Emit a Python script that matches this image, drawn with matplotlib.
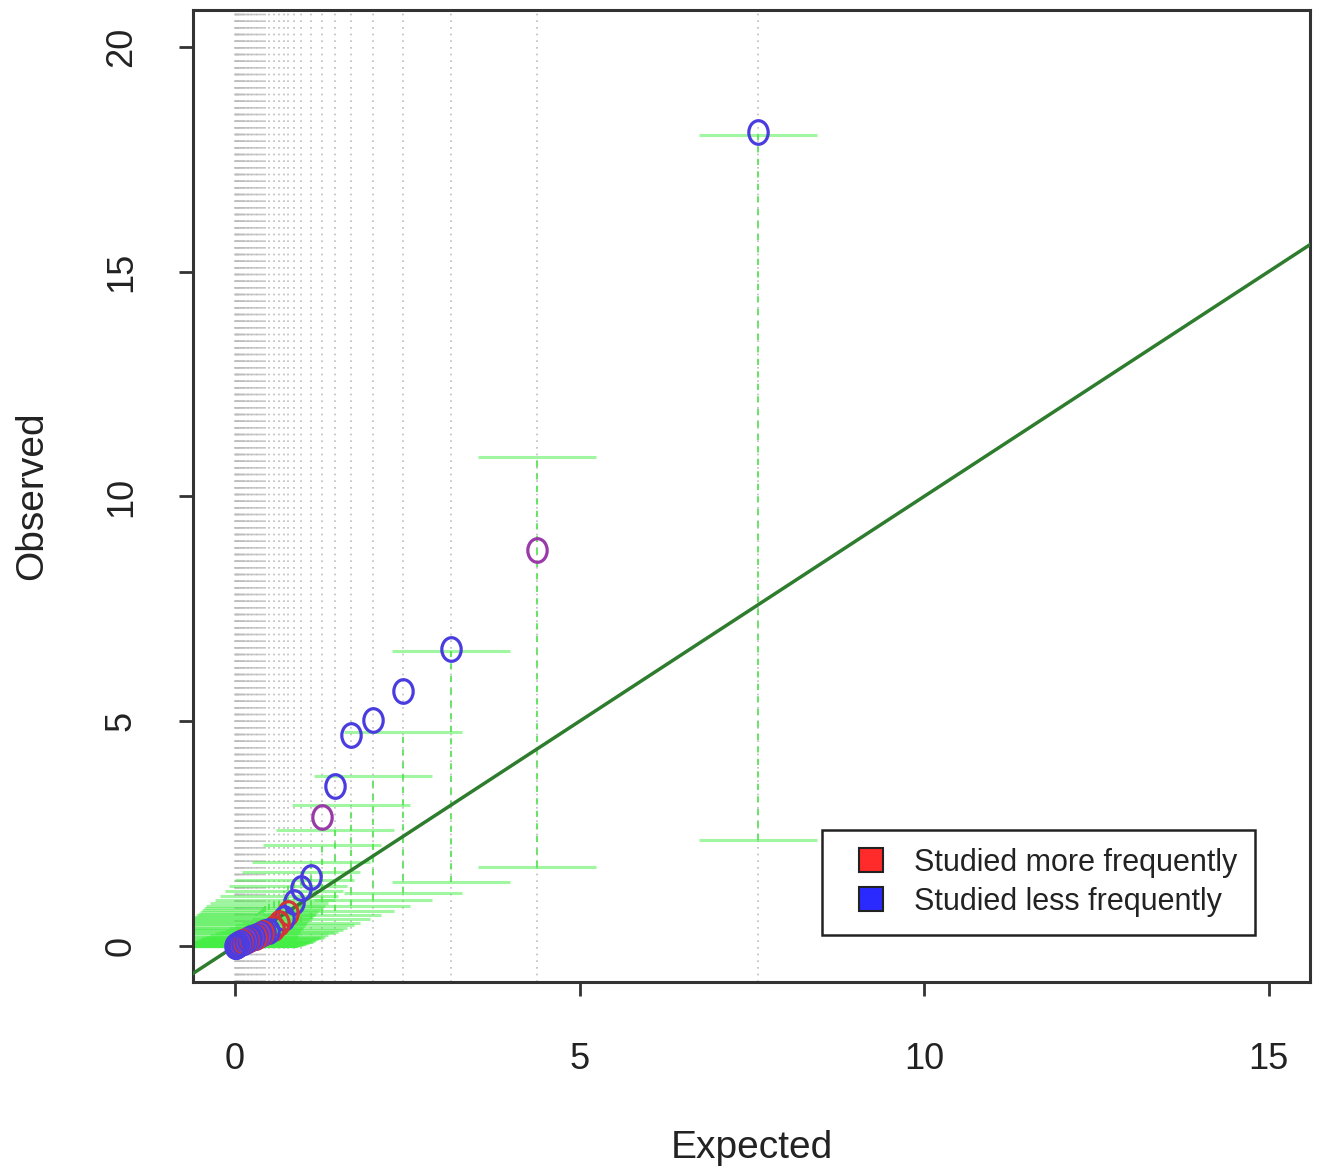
import matplotlib
matplotlib.use("Agg")
import matplotlib.pyplot as plt
from matplotlib.lines import Line2D
from matplotlib.markers import MarkerStyle
from matplotlib.path import Path
from matplotlib.transforms import Affine2D

plt.rcParams['font.family'] = ['Liberation Sans', 'DejaVu Sans']

# expected vs observed, with confidence limits per point
expected = [7.59, 4.38, 3.135, 2.44, 2.00, 1.68, 1.45, 1.26, 1.10, 0.96, 0.86,
            0.77, 0.71, 0.64, 0.57, 0.49, 0.44, 0.41, 0.38, 0.35, 0.32, 0.30,
            0.27, 0.25, 0.23, 0.21, 0.19, 0.17, 0.15, 0.13, 0.12, 0.10, 0.09,
            0.07, 0.06, 0.05, 0.04, 0.03, 0.02, 0.01, 0.005]
observed = [18.1, 8.8, 6.6, 5.67, 5.03, 4.69, 3.56, 2.87, 1.54, 1.29, 0.98,
            0.74, 0.62, 0.51, 0.40, 0.34, 0.31, 0.29, 0.27, 0.25, 0.23, 0.21,
            0.20, 0.18, 0.17, 0.15, 0.14, 0.13, 0.12, 0.10, 0.09, 0.08, 0.07,
            0.06, 0.05, 0.04, 0.03, 0.02, 0.01, 0.005, 0.0]
upper = [18.04, 10.88, 6.56, 4.76, 3.78, 3.14, 2.58, 2.25, 1.87, 1.65, 1.47,
         1.33, 1.22, 1.12, 1.03, 0.95, 0.88, 0.84, 0.80, 0.76, 0.72, 0.68,
         0.65, 0.62, 0.58, 0.55, 0.52, 0.48, 0.45, 0.41, 0.38, 0.35, 0.31,
         0.28, 0.24, 0.21, 0.18, 0.14, 0.11, 0.07, 0.04]
lower = [2.36, 1.76, 1.43, 1.18, 1.03, 0.90, 0.78, 0.68, 0.60, 0.52, 0.46,
         0.40, 0.36, 0.32, 0.28, 0.24, 0.21, 0.19, 0.17, 0.15, 0.13, 0.12,
         0.10, 0.09, 0.08, 0.07, 0.06, 0.05, 0.04, 0.035, 0.03, 0.025, 0.02,
         0.015, 0.012, 0.01, 0.008, 0.006, 0.004, 0.002, 0.001]
# b = less frequently, r = more frequently, p = mixed
groups = ['b', 'p', 'b', 'b', 'b', 'b', 'b', 'p', 'b', 'b', 'b',
          'r', 'b', 'r', 'r', 'b', 'b', 'r', 'b', 'p', 'b', 'r',
          'b', 'p', 'b', 'b', 'r', 'b', 'p', 'b', 'b', 'r', 'b',
          'b', 'p', 'b', 'b', 'b', 'p', 'b', 'b']

colors = {'b': '#4a3de0', 'r': '#d43434', 'p': '#9a3aa8'}
cap_w = 0.86

fig = plt.figure(figsize=(13.2, 11.72), dpi=100)
ax = fig.add_axes([0.1462, 0.1621, 0.8462, 0.8294])
ax.set_xlim(-0.61, 15.6)
ax.set_ylim(-0.8, 20.82)

for x in expected:
    ax.axvline(x, color='#bcbcbc', linestyle=(0, (1, 3)), lw=1.2, zorder=1)

for x, lo, hi in zip(expected, lower, upper):
    ax.plot([x, x], [lo, hi], color='#5ee05e', linestyle=(0, (3, 3)), lw=1.5,
            alpha=0.9, zorder=2)
    ax.plot([x - cap_w, x + cap_w], [hi, hi], color='#44ee44', lw=2.2,
            alpha=0.5, zorder=2, solid_capstyle='butt')
    ax.plot([x - cap_w, x + cap_w], [lo, lo], color='#44ee44', lw=2.2,
            alpha=0.5, zorder=2, solid_capstyle='butt')

ax.plot([-1, 16], [-1, 16], color='#2e7d2e', lw=2.5, zorder=3)

ell = Path.unit_circle().transformed(Affine2D().scale(0.82, 1.0))
mk = MarkerStyle(ell)
for x, y, g in zip(expected, observed, groups):
    ax.plot(x, y, marker=mk, markersize=17, mfc='none', mec=colors[g],
            mew=2.3, linestyle='none', zorder=4)

ax.set_xticks([0, 5, 10, 15])
ax.set_yticks([0, 5, 10, 15, 20])
ax.tick_params(axis='both', length=10, width=2, color='#333333',
               labelsize=26, labelcolor='#222222')
ax.tick_params(axis='x', pad=33)
ax.tick_params(axis='y', pad=29)
for lab in ax.get_yticklabels():
    lab.set_rotation(90)
    lab.set_va('center')
for sp in ax.spines.values():
    sp.set_linewidth(2.2)
    sp.set_color('#333333')

ax.set_xlabel('Expected', fontsize=28, color='#222222', va='center')
ax.xaxis.set_label_coords(0.5, -0.171)
ax.set_ylabel('Observed', fontsize=28, color='#222222', va='center')
ax.yaxis.set_label_coords(-0.144, 0.5)

handles = [Line2D([], [], marker='s', linestyle='none', markersize=17,
                  mfc='#ff2a2a', mec='#222222', mew=1.5),
           Line2D([], [], marker='s', linestyle='none', markersize=17,
                  mfc='#2a2aff', mec='#222222', mew=1.5)]
leg = ax.legend(handles, ['Studied more frequently', 'Studied less frequently'],
                loc='lower right', bbox_to_anchor=(0.951, 0.048),
                fontsize=22, fancybox=False, framealpha=1,
                edgecolor='#222222', borderpad=0.6, handletextpad=0.4,
                labelspacing=0.3, borderaxespad=0)
leg.get_frame().set_linewidth(1.8)
for t in leg.get_texts():
    t.set_color('#222222')

fig.savefig('out.png', dpi=100)
